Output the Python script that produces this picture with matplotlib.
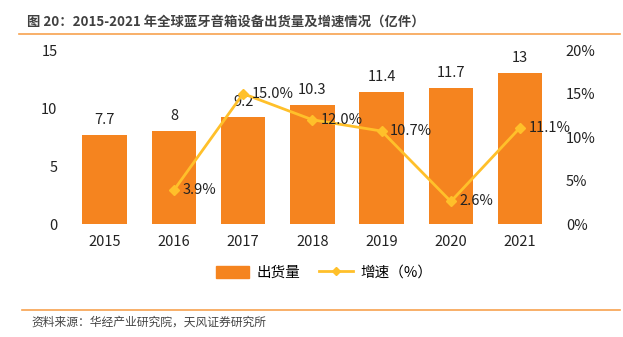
import numpy as np
import matplotlib.pyplot as plt
from matplotlib.lines import Line2D

plt.rcParams['font.family'] = ['Noto Sans CJK SC', 'DejaVu Sans']

years = ["2015", "2016", "2017", "2018", "2019", "2020", "2021"]
shipments = [7.7, 8, 9.2, 10.3, 11.4, 11.7, 13]
growth_years = ["2016", "2017", "2018", "2019", "2020", "2021"]
growth = [3.9, 15.0, 12.0, 10.7, 2.6, 11.1]

bar_color = "#F5841F"
line_color = "#FFC02A"

fig = plt.figure(figsize=(6.23, 3.37), dpi=100)
ax = fig.add_axes([0.1124, 0.335, 0.778, 0.516])
ax2 = ax.twinx()

x = np.arange(len(years))
ax.bar(x, shipments, width=0.64, color=bar_color, zorder=2)
for xi, v in zip(x, shipments):
    ax.text(xi, v + 0.7, f"{v:g}", ha="center", va="bottom", fontsize=10.5, color="#222222")

gx = np.array([years.index(y) for y in growth_years])
ax2.plot(gx, growth, color=line_color, lw=2, marker="D", markersize=5, zorder=3)
for xi, v in zip(gx, growth):
    ax2.text(xi + 0.12, v, f"{v:.1f}%", ha="left", va="center", fontsize=10.5, color="#222222")

ax.set_xlim(-0.5, len(years) - 0.5)
ax.set_ylim(0, 15)
ax.set_yticks([0, 5, 10, 15])
ax2.set_ylim(0, 20)
ax2.set_yticks([0, 5, 10, 15, 20])
ax2.set_yticklabels([f"{t}%" for t in [0, 5, 10, 15, 20]])
ax.set_xticks(x)
ax.set_xticklabels(years)

for a in (ax, ax2):
    for s in a.spines.values():
        s.set_visible(False)
    a.tick_params(length=0, labelsize=10.5, colors="#222222")
ax.tick_params(axis="x", pad=8)
ax.tick_params(axis="y", pad=9)
ax2.tick_params(axis="y", pad=8)

handles = [
    plt.Rectangle((0, 0), 1, 1, color=bar_color),
    Line2D([0], [0], color=line_color, lw=2, marker="D", markersize=4),
]
fig.legend(handles, ["出货量", "增速（%）"], loc="center", bbox_to_anchor=(0.52, 0.19),
           ncol=2, frameon=False, fontsize=10.5, handlelength=2.3, columnspacing=1.3,
           handletextpad=0.5, handleheight=0.9)

fig.text(0.044, 0.935, "图 20：2015-2021 年全球蓝牙音箱设备出货量及增速情况（亿件）",
         fontsize=9.6, fontweight="bold", color="#404040", va="center")
fig.add_artist(Line2D([0.03, 0.995], [0.9, 0.9], color="#F7A24F", lw=1.2, transform=fig.transFigure))
fig.add_artist(Line2D([0.035, 0.995], [0.08, 0.08], color="#F7A24F", lw=1.2, transform=fig.transFigure))
fig.text(0.05, 0.045, "资料来源：华经产业研究院，天风证券研究所", fontsize=8.5, color="#444444", va="center")

fig.savefig("out.png", dpi=100)
